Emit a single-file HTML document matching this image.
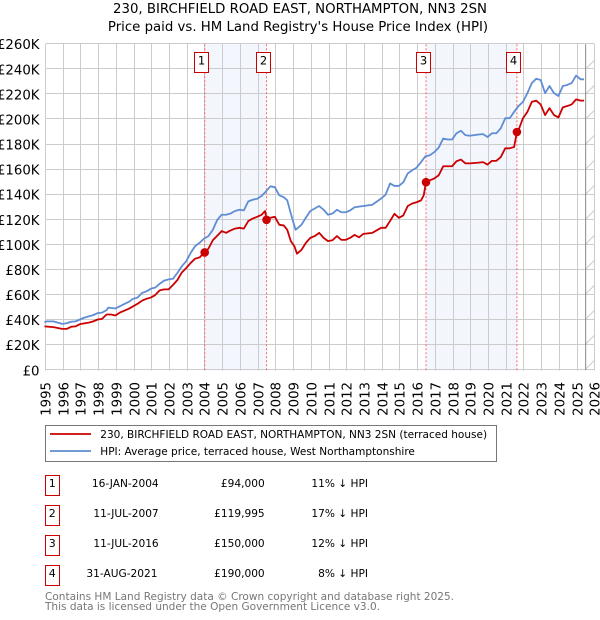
<!DOCTYPE html>
<html>
<head>
<meta charset="utf-8">
<title>230, Birchfield Road East price chart</title>
<style>
html,body{margin:0;padding:0;background:#fff;width:600px;height:620px;overflow:hidden}
svg{display:block;font-family:"DejaVu Sans",sans-serif}
</style>
</head>
<body>
<svg id="chart" xmlns="http://www.w3.org/2000/svg" width="600" height="620" viewBox="0 0 600 620">
  <defs>
    <pattern id="hatch" patternUnits="userSpaceOnUse" x="585.7" y="44" width="9" height="25">
      <line x1="0" y1="25" x2="9" y2="16" stroke="#ccc" stroke-width="1"/>
    </pattern>
  </defs>
  <text x="300" y="13" text-anchor="middle" font-size="13.3" fill="#000">230, BIRCHFIELD ROAD EAST, NORTHAMPTON, NN3 2SN</text>
  <text x="298" y="31" text-anchor="middle" font-size="13.3" fill="#000">Price paid vs. HM Land Registry's House Price Index (HPI)</text>
  <g id="plot"></g>

  <g>
    <rect x="45.5" y="425.5" width="451" height="36" fill="#fff" stroke="#777" stroke-width="1"/>
    <line x1="50" y1="434" x2="91" y2="434" stroke="#cc0000" stroke-width="1.8"/>
    <text x="100.3" y="438" font-size="10.53" fill="#000">230, BIRCHFIELD ROAD EAST, NORTHAMPTON, NN3 2SN (terraced house)</text>
    <line x1="50" y1="451" x2="91" y2="451" stroke="#5f8dd3" stroke-width="1.8"/>
    <text x="100.3" y="455" font-size="10.53" fill="#000">HPI: Average price, terraced house, West Northamptonshire</text>
  </g>

  <g font-size="10.6" fill="#000">
    <rect x="45.5" y="475.5" width="14" height="20" fill="#fff" stroke="#cc0000"/>
    <text x="52.3" y="487" text-anchor="middle" font-size="11">1</text>
    <text x="158.7" y="487" text-anchor="end">16-JAN-2004</text>
    <text x="264.7" y="487" text-anchor="end">£94,000</text>
    <text x="368" y="487" text-anchor="end">11% ↓ HPI</text>

    <rect x="45.5" y="505.5" width="14" height="20" fill="#fff" stroke="#cc0000"/>
    <text x="52.3" y="517" text-anchor="middle" font-size="11">2</text>
    <text x="158.7" y="517" text-anchor="end">11-JUL-2007</text>
    <text x="264.7" y="517" text-anchor="end">£119,995</text>
    <text x="368" y="517" text-anchor="end">17% ↓ HPI</text>

    <rect x="45.5" y="535.5" width="14" height="20" fill="#fff" stroke="#cc0000"/>
    <text x="52.3" y="547" text-anchor="middle" font-size="11">3</text>
    <text x="158.7" y="547" text-anchor="end">11-JUL-2016</text>
    <text x="264.7" y="547" text-anchor="end">£150,000</text>
    <text x="368" y="547" text-anchor="end">12% ↓ HPI</text>

    <rect x="45.5" y="565.5" width="14" height="20" fill="#fff" stroke="#cc0000"/>
    <text x="52.3" y="577" text-anchor="middle" font-size="11">4</text>
    <text x="157.5" y="577" text-anchor="end">31-AUG-2021</text>
    <text x="264.7" y="577" text-anchor="end">£190,000</text>
    <text x="368" y="577" text-anchor="end">8% ↓ HPI</text>
  </g>

  <text x="45" y="600" font-size="10.53" fill="#777">Contains HM Land Registry data © Crown copyright and database right 2025.</text>
  <text x="45" y="610" font-size="10.53" fill="#777">This data is licensed under the Open Government Licence v3.0.</text>
</svg>
<script>
var yearTicks = [1995,1996,1997,1998,1999,2000,2001,2002,2003,2004,2005,2006,2007,2008,2009,2010,2011,2012,2013,2014,2015,2016,2017,2018,2019,2020,2021,2022,2023,2024,2025,2026];
var priceTicks = [0,20,40,60,80,100,120,140,160,180,200,220,240,260];
var hpiDates = [1995,1995.1,1995.5,1996,1996.25,1996.5,1996.75,1997,1997.25,1997.5,1997.75,1998,1998.25,1998.5,1998.6,1999,1999.25,1999.5,1999.75,2000,2000.25,2000.5,2000.75,2001,2001.25,2001.5,2001.75,2002,2002.25,2002.5,2002.75,2003,2003.25,2003.5,2003.75,2004,2004.25,2004.5,2004.75,2005,2005.25,2005.5,2005.75,2006,2006.25,2006.5,2006.75,2007,2007.25,2007.5,2007.75,2008,2008.25,2008.5,2008.7,2008.9,2009.17,2009.5,2009.75,2010,2010.25,2010.5,2010.75,2011,2011.25,2011.5,2011.75,2012,2012.25,2012.5,2013,2013.5,2014,2014.25,2014.5,2014.75,2015,2015.25,2015.5,2015.75,2016,2016.25,2016.5,2016.75,2017,2017.25,2017.5,2017.75,2018,2018.25,2018.5,2018.75,2019,2019.5,2019.75,2020,2020.25,2020.5,2020.75,2021,2021.25,2021.5,2021.75,2022,2022.25,2022.5,2022.75,2023,2023.25,2023.5,2023.75,2024,2024.25,2024.5,2024.75,2025,2025.25,2025.45];
var hpiValues = [38.1,39,39,37,37.5,38.7,39,40.5,42,43,44,45.6,46,48,50,49.3,51,52.8,54.5,57,58,61.6,63,65,66,69,71.5,72.5,73,77.6,83,87,93.6,99,101.6,105,107,112,120,124,124,125,127,128,127.5,134.7,136,136.8,139,142.7,146.7,146,139.5,138,135.5,125,112,116,121.6,127,129,131,128,124,125,128,126,126,127.5,130,131,132,137,140,149,147,147,150,157,159.5,161.6,166,170.7,171.5,174,177.6,184.8,184,184,189,191,187.5,187,188,188.3,186,189,189,193,201,201,206,210.7,214,221,229,232.5,231.5,221,226.7,221,218.7,226.7,227.5,229,235,232,232];
var paidDates = [1995,1995.5,1996,1996.25,1996.5,1996.75,1997,1997.5,1997.75,1998,1998.25,1998.5,1998.75,1999,1999.25,1999.5,1999.75,2000,2000.25,2000.5,2000.75,2001,2001.25,2001.5,2001.75,2002,2002.25,2002.5,2002.75,2003,2003.25,2003.5,2003.75,2004.04,2004.25,2004.5,2005,2005.25,2005.5,2005.75,2006,2006.25,2006.5,2006.75,2007,2007.25,2007.45,2007.53,2007.75,2008,2008.25,2008.5,2008.7,2008.9,2009.1,2009.25,2009.5,2009.75,2010,2010.25,2010.5,2010.75,2011,2011.25,2011.5,2011.75,2012,2012.25,2012.5,2012.75,2013,2013.5,2014,2014.25,2014.5,2014.75,2015,2015.25,2015.5,2015.75,2016,2016.25,2016.4,2016.53,2016.75,2017,2017.25,2017.5,2017.75,2018,2018.25,2018.5,2018.75,2019,2019.5,2019.75,2020,2020.25,2020.5,2020.75,2021,2021.25,2021.5,2021.66,2021.75,2022,2022.25,2022.5,2022.75,2023,2023.25,2023.5,2023.75,2024,2024.25,2024.5,2024.75,2025,2025.25,2025.45];
var paidValues = [35,34.4,33,33,34.7,35,36.8,38,39,40.5,41,44.5,44.5,43.7,46,47.5,49,51,53,55.5,57,58,60,63.7,64.5,64.5,68,72,78,81.6,85.6,89,90,94,97,103.7,111,109.6,111.5,113,113.6,113,119,121,122.4,124,127,120,121.6,122.4,116,115.5,112,103,99,93,96,101.6,105.6,107,109.6,105.6,103,103.7,107,104,104,105.6,108,106,108.8,109.6,113.6,113.6,119,124.8,121.6,123.5,131,133,134,135.5,139.5,150,151.5,153,155.5,162.7,162.7,162.7,166.7,168,165,165,165.6,166,164,167,167,170,177,177,178,190,191.5,201,206,214,215,212,203.5,209,203.5,201.6,209.6,210.7,212,216,215,215];
var saleNumbers = ["1","2","3","4"];
var saleDates = [2004.04,2007.53,2016.53,2021.66];
var salePrices = [94,119.995,150,190];
var lastDataDate = 2025.54;

var SVGNS = 'http://www.w3.org/2000/svg';
var plot = document.getElementById('plot');
function xScale(year){ return 44.5 + (year - 1995) * 17.72; }
function yScale(k){ return 370.3 - k * 1.2542; }
function make(tag, attrs, parent){
  var el = document.createElementNS(SVGNS, tag);
  for (var key in attrs) el.setAttribute(key, attrs[key]);
  (parent || plot).appendChild(el);
  return el;
}
var top_ = yScale(260), bottom_ = yScale(0), left_ = 45.5, right_ = Math.ceil(xScale(2026)) + 0.5;

saleDates.forEach(function(d, i){
  if (i % 2 === 0) {
    var band = make('rect', {x: xScale(d), y: top_, width: xScale(saleDates[i+1]) - xScale(d), height: bottom_ - top_, fill: '#f3f6fd'});
    
    
  }
});

var hatchRect = make('rect', {x: xScale(lastDataDate), y: top_, width: right_ - xScale(lastDataDate), height: bottom_ - top_, fill: 'url(#hatch)'});



priceTicks.forEach(function(t){
  var y = Math.round(yScale(t)) + 0.5 - 1;
  var g = make('line', {x1: left_, x2: right_, y1: y, y2: y, stroke: '#ccc', 'stroke-width': 1, 'shape-rendering': 'crispEdges'});
  
  
  var lab = make('text', {x: 39.5, y: yScale(t) + 5, 'text-anchor': 'end', 'font-size': 13.3, fill: '#000'});
  
  
  lab.textContent = '£' + t + (t === 0 ? '' : 'K');
});

yearTicks.forEach(function(t){
  var x = Math.ceil(xScale(t)) + 0.5;
  var g = make('line', {x1: x, x2: x, y1: top_, y2: bottom_, stroke: '#ccc', 'stroke-width': 1, 'shape-rendering': 'crispEdges'});
  
  
  var lab = make('text', {transform: 'translate(' + (x + 5) + ',382) rotate(-90)', 'text-anchor': 'end', 'font-size': 13.3, fill: '#000'});
  
  
  lab.textContent = String(t);
});

var endLine = make('line', {x1: xScale(lastDataDate), x2: xScale(lastDataDate), y1: top_, y2: bottom_, stroke: '#888', 'stroke-width': 1});



saleDates.forEach(function(d, i){
  var x = xScale(d);
  var v = make('line', {x1: x, x2: x, y1: top_, y2: bottom_, stroke: '#ff6666', 'stroke-width': 1, 'stroke-dasharray': '2,2'});
  
  
});

function pathFrom(dates, values){
  return dates.map(function(d, i){
    return (i ? 'L' : 'M') + xScale(d).toFixed(2) + ' ' + yScale(values[i]).toFixed(2);
  }).join(' ');
}
var hpiLine = make('path', {d: pathFrom(hpiDates, hpiValues), fill: 'none', stroke: '#5f8dd3', 'stroke-width': 1.8, 'stroke-linejoin': 'round'});


var paidLine = make('path', {d: pathFrom(paidDates, paidValues), fill: 'none', stroke: '#cc0000', 'stroke-width': 1.8, 'stroke-linejoin': 'round'});



saleDates.forEach(function(d, i){
  var dot = make('circle', {cx: xScale(d), cy: yScale(salePrices[i]), r: 4.3, fill: '#cc0000'});
  
  
  var x = Math.floor(xScale(d)) - 10 + 0.5;
  var box = make('rect', {x: x, y: 52.5, width: 14, height: 20, fill: '#fff', stroke: '#cc0000', 'stroke-width': 1});
  
  
  var num = make('text', {x: x + 7, y: 64.3, 'text-anchor': 'middle', 'font-size': 11.5, fill: '#000'});
  
  
  num.textContent = saleNumbers[i];
});
</script>
</body>
</html>
